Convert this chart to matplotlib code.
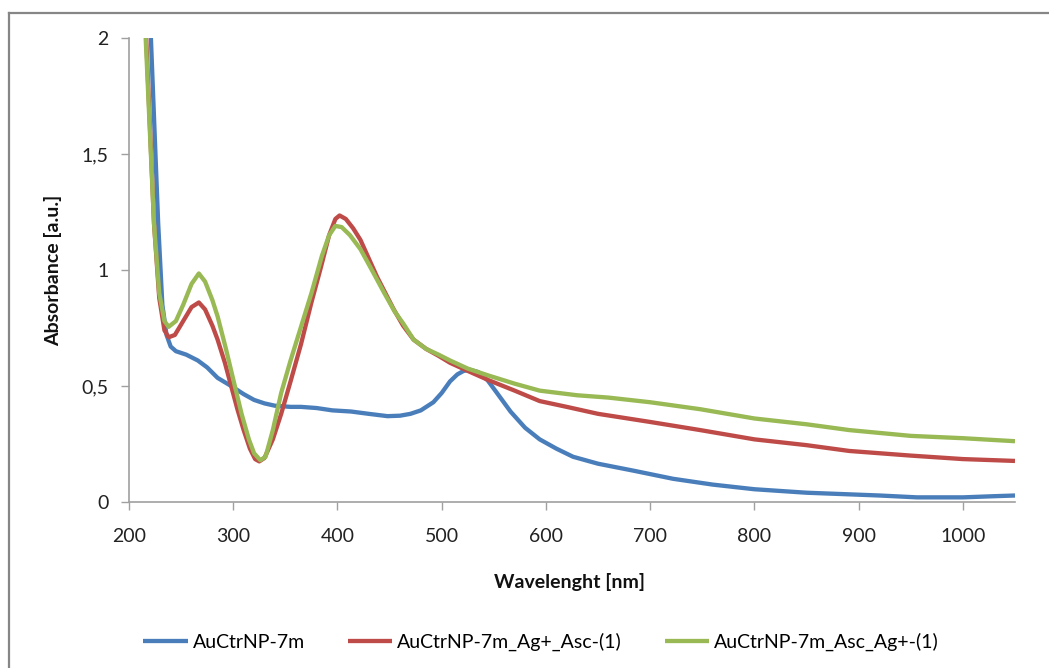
import matplotlib
matplotlib.use("Agg")
import matplotlib.pyplot as plt
from matplotlib.lines import Line2D
from matplotlib.ticker import FuncFormatter, MultipleLocator

plt.rcParams['font.family'] = ['Lato', 'DejaVu Sans']

# Spectra (wavelength nm, absorbance a.u.)
wl_blue = [221, 228, 232, 236, 240, 245, 255, 266, 275, 285, 298, 310, 320, 330,
           340, 355, 365, 380, 395, 413, 430, 448, 460, 470, 480, 492, 500, 508,
           515, 521, 527, 535, 544, 553, 566, 580, 594, 610, 626, 650, 684, 722,
           760, 800, 850, 891, 920, 956, 1000, 1030, 1050]
abs_blue = [2.0, 1.2, 0.85, 0.72, 0.67, 0.65, 0.635, 0.61, 0.58, 0.535, 0.50, 0.465,
            0.44, 0.425, 0.415, 0.41, 0.41, 0.405, 0.395, 0.39, 0.38, 0.37, 0.372,
            0.38, 0.395, 0.43, 0.47, 0.52, 0.55, 0.565, 0.57, 0.56, 0.525, 0.47,
            0.39, 0.32, 0.27, 0.23, 0.195, 0.165, 0.135, 0.10, 0.075, 0.055, 0.04,
            0.033, 0.028, 0.02, 0.02, 0.025, 0.028]

wl_red = [216.5, 224, 229, 234, 238, 244, 252, 260, 267, 273, 280, 285, 292, 298,
          304, 310, 316, 321, 325, 330, 338, 346, 355, 365, 375, 384, 392, 398, 402,
          408, 415, 422, 430, 438, 446, 454, 463, 473, 485, 497, 508, 525, 545, 570,
          594, 620, 650, 700, 748, 800, 850, 891, 950, 1000, 1050]
abs_red = [2.0, 1.2, 0.88, 0.74, 0.71, 0.72, 0.78, 0.84, 0.86, 0.83, 0.76, 0.70,
           0.60, 0.50, 0.40, 0.31, 0.23, 0.185, 0.175, 0.19, 0.27, 0.38, 0.52, 0.68,
           0.86, 1.01, 1.15, 1.22, 1.235, 1.22, 1.18, 1.13, 1.05, 0.97, 0.90, 0.83,
           0.76, 0.70, 0.66, 0.63, 0.60, 0.565, 0.525, 0.48, 0.435, 0.41, 0.38,
           0.345, 0.31, 0.27, 0.245, 0.22, 0.20, 0.185, 0.177]

wl_green = [216, 224, 229, 234, 238, 245, 252, 260, 267, 273, 280, 285, 293, 301,
            308, 315, 320, 326, 331, 338, 346, 355, 365, 375, 385, 392, 398, 404,
            412, 422, 433, 445, 455, 463, 473, 485, 497, 508, 525, 545, 570, 594,
            630, 660, 700, 748, 800, 850, 891, 950, 1000, 1050]
abs_green = [2.0, 1.2, 0.9, 0.78, 0.755, 0.78, 0.85, 0.94, 0.985, 0.95, 0.87, 0.80,
             0.66, 0.51, 0.38, 0.27, 0.21, 0.18, 0.195, 0.31, 0.47, 0.61, 0.755,
             0.90, 1.06, 1.15, 1.19, 1.185, 1.15, 1.09, 1.00, 0.90, 0.82, 0.77,
             0.70, 0.66, 0.635, 0.61, 0.575, 0.545, 0.51, 0.48, 0.46, 0.45, 0.43,
             0.40, 0.36, 0.335, 0.31, 0.285, 0.275, 0.262]

labels = ['AuCtrNP-7m', 'AuCtrNP-7m_Ag+_Asc-(1)', 'AuCtrNP-7m_Asc_Ag+-(1)']
colors = ['#4a7ebb', '#be4b48', '#98b954']

W, H = 1049, 668
fs = 14
fig = plt.figure(figsize=(W / 100, H / 100), dpi=100)
ax = fig.add_axes([129 / W, 1 - 502 / H, (1015 - 129) / W, (502 - 38) / H])

for x, y, c, lab in zip([wl_blue, wl_red, wl_green], [abs_blue, abs_red, abs_green],
                        colors, labels):
    ax.plot(x, y, color=c, lw=3.1, label=lab, solid_capstyle='butt')

ax.set_xlim(200, 1050)
ax.set_ylim(0, 2)
ax.xaxis.set_major_locator(MultipleLocator(100))
ax.yaxis.set_major_locator(MultipleLocator(0.5))
ax.yaxis.set_major_formatter(FuncFormatter(lambda v, p: f"{v:g}".replace('.', ',')))

for s in ['top', 'right']:
    ax.spines[s].set_visible(False)
for s in ['left', 'bottom']:
    ax.spines[s].set_color('#a0a0a0')
    ax.spines[s].set_linewidth(1.2)
ax.tick_params(axis='both', colors='#a0a0a0', labelcolor='#222222', labelsize=fs,
               length=5.5, width=1.0, direction='out')
ax.tick_params(axis='x', pad=13)
ax.tick_params(axis='y', pad=9)

ax.set_xlabel('Wavelenght [nm]', fontsize=fs, fontweight='bold', color='#111111')
ax.set_ylabel('Absorbance [a.u.]', fontsize=fs, fontweight='bold', color='#111111')
ax.xaxis.set_label_coords((570 - 129) / (1015 - 129), -(573 - 502) / (502 - 38))
ax.yaxis.set_label_coords(-(129 - 62) / (1015 - 129), (502 - 270) / (502 - 38))

fig.legend(loc='center', bbox_to_anchor=(541 / W, 1 - 642 / H), ncol=3,
           frameon=False, fontsize=fs, handlelength=2.3, handletextpad=0.25,
           columnspacing=2.2)

# outer chart frame (right and bottom edges fall outside the picture)
fig.add_artist(Line2D([9 / W, 9 / W], [0, 1 - 13 / H], color='#868686', lw=1.6))
fig.add_artist(Line2D([9 / W, 1], [1 - 13 / H, 1 - 13 / H], color='#868686', lw=1.6))

fig.savefig('out.png', dpi=100)
